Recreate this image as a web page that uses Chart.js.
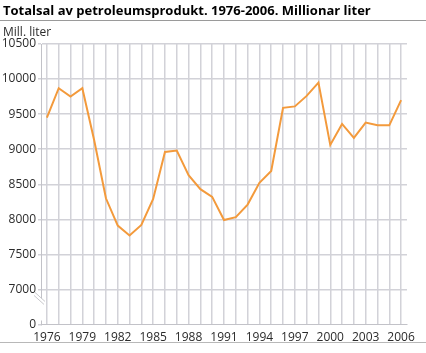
<!DOCTYPE html>
<html lang="nn">
<head>
    <meta charset="UTF-8">
    <title>Totalsal av petroleumsprodukt</title>
    <script src="https://cdn.jsdelivr.net/npm/chart.js@4.4.0/dist/chart.umd.min.js"></script>
    <style>
        html, body { margin: 0; padding: 0; background: #fff; }
        #wrap { position: relative; width: 426px; height: 353px; }
    </style>
</head>
<body>
<div id="wrap"><canvas id="chart" width="426" height="353"></canvas></div>
<script>
    // data
    const years = [];
    for (let y = 1976; y <= 2006; y++) years.push(String(y));

    const sales = [
        9450, 9870, 9750, 9870, 9130, 8300, 7910, 7770, 7920, 8290,
        8960, 8980, 8630, 8430, 8320, 7990, 8030, 8210, 8520, 8690,
        9590, 9610, 9760, 9950, 9060, 9360, 9160, 9380, 9340, 9340,
        9700
    ];

    // axis break: the bottom step of the scale is labelled 0
    const yMin = 6500;
    const yMax = 10500;
    const yStep = 500;

    const titleText = 'Totalsal av petroleumsprodukt. 1976-2006. Millionar liter';
    const unitText = 'Mill. liter';

    const fontFamily = "'Open Sans', 'DejaVu Sans', sans-serif";
    const textColor = '#2b2b2b';
    const gridColor = '#d2d2d8';
    const axisColor = '#c2c2c8';

    const decorPlugin = {
        id: 'decor',
        afterDraw(chart) {
            const {ctx, chartArea} = chart;
            const y = chart.scales.y;
            ctx.save();

            // title and rules
            ctx.fillStyle = '#000';
            ctx.font = 'bold 13px ' + fontFamily;
            ctx.textBaseline = 'alphabetic';
            ctx.textAlign = 'left';
            ctx.fillText(titleText, 3, 15);
            ctx.fillStyle = '#9a9a9a';
            ctx.fillRect(0, 20, 426, 1);
            ctx.fillStyle = '#b8b8b8';
            ctx.fillRect(0, 342, 426, 1);

            // unit label
            ctx.fillStyle = textColor;
            ctx.font = '12px ' + fontFamily;
            ctx.fillText(unitText, 3, 36);

            // axis break
            const top = y.getPixelForValue(7000) + 9;
            const bot = chartArea.bottom - 4;
            ctx.fillStyle = '#fff';
            ctx.fillRect(chartArea.left - 2, top, 4, bot - top);
            ctx.strokeStyle = '#c8c8cc';
            ctx.lineWidth = 1;
            ctx.beginPath();
            ctx.moveTo(34, top - 3); ctx.lineTo(44, top + 6);
            ctx.moveTo(35, top - 6); ctx.lineTo(45, top + 3);
            ctx.stroke();
            ctx.restore();
        }
    };

    new Chart(document.getElementById('chart'), {
        type: 'line',
        data: {
            labels: years,
            datasets: [{
                data: sales,
                borderColor: '#f39a3c',
                borderWidth: 2,
                pointRadius: 0,
                tension: 0,
                fill: false
            }]
        },
        options: {
            responsive: false,
            animation: false,
            layout: { padding: { top: 44, left: 0, right: 19, bottom: 0 } },
            plugins: {
                legend: { display: false },
                tooltip: { enabled: false },
                title: { display: false }
            },
            scales: {
                x: {
                    offset: true,
                    grid: { display: true, color: gridColor, lineWidth: 1.5, drawTicks: false, offset: false },
                    border: { color: axisColor },
                    ticks: {
                        autoSkip: false,
                        maxRotation: 0,
                        padding: 6,
                        color: textColor,
                        font: { family: fontFamily, size: 12 },
                        callback: function (v, i) {
                            return i % 3 === 0 ? years[i] : '';
                        }
                    },
                    afterFit(scale) { scale.height = 28.5; }
                },
                y: {
                    min: yMin,
                    max: yMax,
                    grid: {
                        display: true,
                        color: function (c) { return c.tick && c.tick.value === yMin ? 'rgba(0,0,0,0)' : gridColor; },
                        lineWidth: 1.5,
                        tickLength: 3,
                        tickColor: gridColor
                    },
                    border: { color: axisColor },
                    ticks: {
                        stepSize: yStep,
                        padding: 2,
                        color: textColor,
                        font: { family: fontFamily, size: 12 },
                        callback: function (v) { return v === yMin ? '0' : String(v); }
                    },
                    afterFit(scale) { scale.width = 41; }
                }
            }
        },
        plugins: [decorPlugin]
    });
</script>
</body>
</html>
